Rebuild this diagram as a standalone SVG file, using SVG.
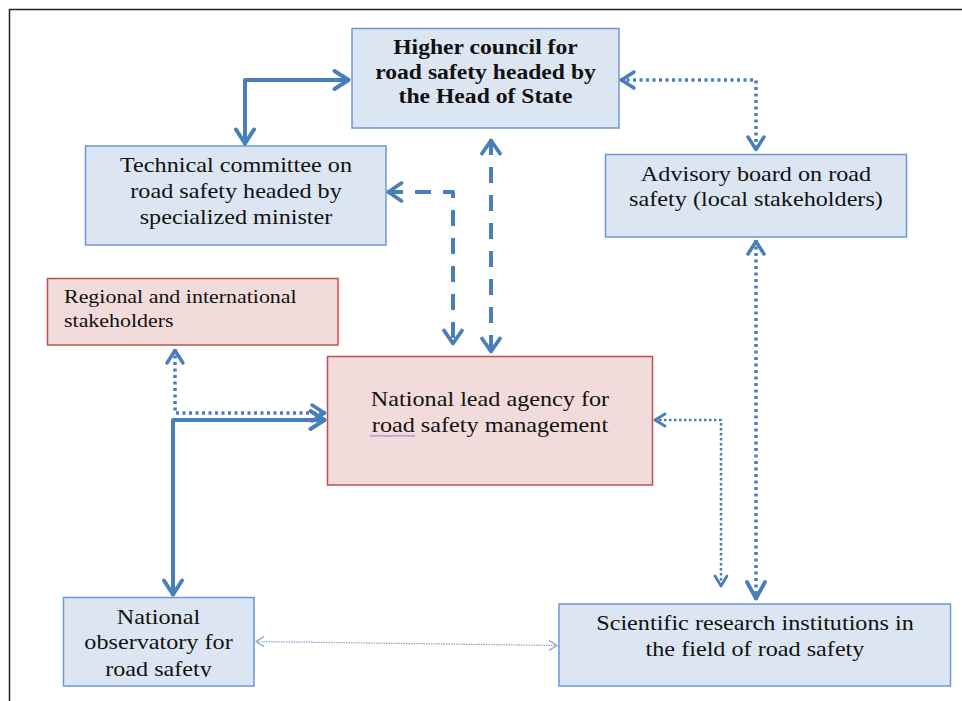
<svg xmlns="http://www.w3.org/2000/svg" width="962" height="701" viewBox="0 0 962 701">
<defs>
<style>
.bx{fill:#dce6f2;stroke:#6b98d2;stroke-width:1.5}
.pk{fill:#f2dcdb;stroke:#c0504d;stroke-width:1.5}
.t{font-family:"Liberation Serif","Times New Roman",serif;font-size:21.5px;fill:#111;text-anchor:middle}
.b{font-weight:bold;font-size:21px}
.r{font-size:19.5px;text-anchor:start}
.c{fill:none;stroke:#4a7ebb;stroke-linejoin:round}
.solid{stroke-width:4}
.dash{stroke-width:4;stroke-dasharray:16 12}
.dot{stroke-width:3.5;stroke-dasharray:3 3.5}
.dots{stroke-width:2.5;stroke-dasharray:2.5 2.5}
.thin{stroke:#8fa9cf;stroke-width:1.3;stroke-dasharray:1.5 1}
.ah{fill:none;stroke:#4a7ebb;stroke-linejoin:round;stroke-linecap:round}
</style>
<marker id="mS" markerUnits="userSpaceOnUse" markerWidth="40" markerHeight="40" viewBox="-20 -20 40 40" refX="0" refY="0" orient="auto-start-reverse"><path class="ah" stroke-width="4" d="M-15.5,-9 L-1.5,0 L-15.5,9"/></marker>
<marker id="mD" markerUnits="userSpaceOnUse" markerWidth="40" markerHeight="40" viewBox="-20 -20 40 40" refX="0" refY="0" orient="auto-start-reverse"><path class="ah" stroke-width="3.8" d="M-14.5,-9 L-1.5,0 L-14.5,9"/></marker>
<marker id="mT" markerUnits="userSpaceOnUse" markerWidth="40" markerHeight="40" viewBox="-20 -20 40 40" refX="0" refY="0" orient="auto-start-reverse"><path class="ah" stroke-width="3.5" d="M-14,-8 L-1.5,0 L-14,8"/></marker>
<marker id="mTB" markerUnits="userSpaceOnUse" markerWidth="40" markerHeight="40" viewBox="-20 -20 40 40" refX="0" refY="0" orient="auto-start-reverse"><path class="ah" stroke-width="3.8" d="M-18,-9 L-1.5,0 L-18,9"/></marker>
<marker id="mSm" markerUnits="userSpaceOnUse" markerWidth="30" markerHeight="30" viewBox="-15 -15 30 30" refX="0" refY="0" orient="auto-start-reverse"><path class="ah" stroke-width="2.8" d="M-11,-6 L-1,0 L-11,6"/></marker>
<marker id="mTh" markerUnits="userSpaceOnUse" markerWidth="20" markerHeight="20" viewBox="-10 -10 20 20" refX="0" refY="0" orient="auto-start-reverse"><path fill="none" stroke="#8fa9cf" stroke-width="1.3" d="M-8,-5 L0,0 L-8,5"/></marker>
<clipPath id="clipObs"><rect x="63" y="597" width="191" height="80"/></clipPath>
</defs>
<rect x="0" y="0" width="962" height="701" fill="#fff"/>
<path d="M9.5,701 V9.5 H962" fill="none" stroke="#222" stroke-width="1.5"/>

<g id="higher-council">
<rect class="bx" x="352" y="28.5" width="267" height="99.5"/>
<g transform="translate(485.5,0) scale(1.125,1)">
<text class="t b" x="0" y="54">Higher council for</text>
<text class="t b" x="0" y="79">road safety headed by</text>
<text class="t b" x="0" y="103.5">the Head of State</text>
</g>
</g>

<g id="technical-committee">
<rect class="bx" x="85.5" y="146" width="300.5" height="99"/>
<g transform="translate(236,0) scale(1.125,1)">
<text class="t" x="0" y="172">Technical committee on</text>
<text class="t" x="0" y="198">road safety headed by</text>
<text class="t" x="0" y="224.5">specialized minister</text>
</g>
</g>

<g id="advisory-board">
<rect class="bx" x="605.5" y="154.5" width="301" height="82.5"/>
<g transform="translate(756,0) scale(1.125,1)">
<text class="t" x="0" y="181">Advisory board on road</text>
<text class="t" x="0" y="206">safety (local stakeholders)</text>
</g>
</g>

<g id="regional-stakeholders">
<rect class="pk" x="47.5" y="278.5" width="290.5" height="66.5"/>
<g transform="translate(64,0) scale(1.125,1)">
<text class="t r" x="0" y="303">Regional and international</text>
<text class="t r" x="0" y="327">stakeholders</text>
</g>
</g>

<g id="national-lead-agency">
<rect class="pk" x="327.5" y="356.5" width="325" height="128.5"/>
<g transform="translate(490,0) scale(1.125,1)">
<text class="t" x="0" y="406.5">National lead agency for</text>
<text class="t" x="0" y="432.5">road safety management</text>
</g>
<path d="M370,436.5 l1.5,-1.2 l1.5,1.2 l1.5,-1.2 l1.5,1.2 l1.5,-1.2 l1.5,1.2 l1.5,-1.2 l1.5,1.2 l1.5,-1.2 l1.5,1.2 l1.5,-1.2 l1.5,1.2 l1.5,-1.2 l1.5,1.2 l1.5,-1.2 l1.5,1.2 l1.5,-1.2 l1.5,1.2 l1.5,-1.2 l1.5,1.2 l1.5,-1.2 l1.5,1.2 l1.5,-1.2 l1.5,1.2 l1.5,-1.2 l1.5,1.2 l1.5,-1.2 l1.5,1.2 l1.5,-1.2 l1.5,1.2" fill="none" stroke="#6a6ad8" stroke-width="0.9"/>
</g>

<g id="national-observatory">
<rect class="bx" x="63.5" y="597.5" width="190.5" height="88.5"/>
<g clip-path="url(#clipObs)">
<g transform="translate(158.5,0) scale(1.125,1)">
<text class="t" x="0" y="624">National</text>
<text class="t" x="0" y="649.5">observatory for</text>
<text class="t" x="0" y="676">road safety</text>
</g>
</g>
</g>

<g id="scientific-research">
<rect class="bx" x="559" y="604" width="391.5" height="82"/>
<g transform="translate(755,0) scale(1.125,1)">
<text class="t" x="0" y="630">Scientific research institutions in</text>
<text class="t" x="0" y="656.5">the field of road safety</text>
</g>
</g>

<g id="connectors">
<path class="c solid" d="M350,80 H245 V145" marker-start="url(#mS)" marker-end="url(#mS)"/>
<path class="c dash" d="M387,192 H453 V345" marker-start="url(#mD)" marker-end="url(#mD)"/>
<path class="c dash" d="M491,139 V353" marker-start="url(#mD)" marker-end="url(#mD)"/>
<path class="c dot" d="M620,80 H756 V151" marker-start="url(#mT)" marker-end="url(#mT)"/>
<path class="c dot" d="M756,240 V600" marker-start="url(#mT)" marker-end="url(#mTB)"/>
<path class="c dots" d="M654,420 H721 V587" marker-start="url(#mSm)" marker-end="url(#mSm)"/>
<path class="c dot" d="M175,349 V413 H326" marker-start="url(#mT)" marker-end="url(#mT)"/>
<path class="c solid" d="M326,420 H173 V596" marker-start="url(#mS)" marker-end="url(#mS)"/>
<path class="c thin" d="M256,641.5 L557,645.5" marker-start="url(#mTh)" marker-end="url(#mTh)"/>
</g>
</svg>
